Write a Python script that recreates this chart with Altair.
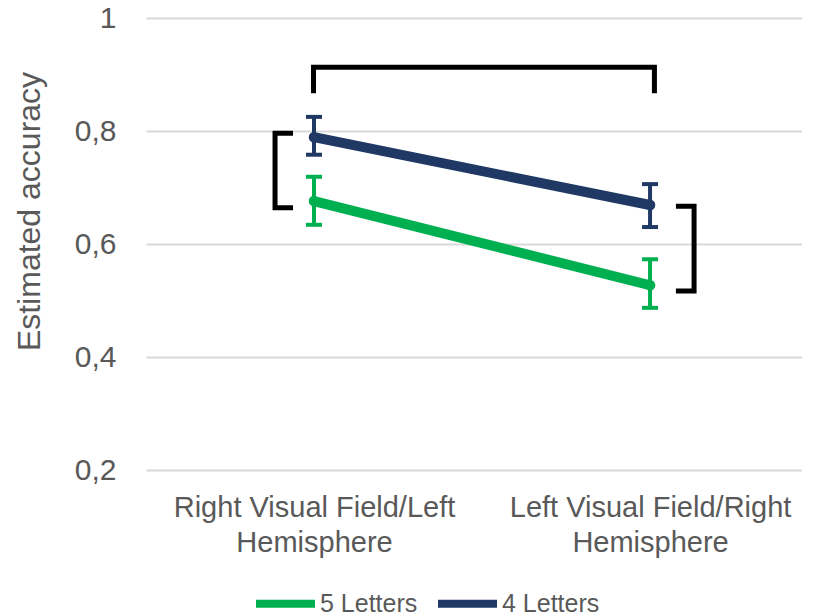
import altair as alt
import pandas as pd

# --- data ---
cat_lines = [["Right Visual Field/Left", "Hemisphere"],
             ["Left Visual Field/Right", "Hemisphere"]]
cat_idx = [0.5, 1.5]                      # category slot on the x scale
series = ["5 Letters", "4 Letters"]
colors = ["#00B050", "#1F3864"]

mean_5 = [0.676, 0.527]
lo_5 = [0.634, 0.487]
hi_5 = [0.719, 0.573]

mean_4 = [0.789, 0.669]
lo_4 = [0.758, 0.630]
hi_4 = [0.825, 0.706]

y_ticks = [0.2, 0.4, 0.6, 0.8, 1.0]

# significance brackets (in data units)
br_top_x = [0.4985, 0.4985, 1.513, 1.513]
br_top_y = [0.867, 0.913, 0.913, 0.867]
br_left_x = [0.4375, 0.384, 0.384, 0.4375]
br_left_y = [0.796, 0.796, 0.664, 0.664]
br_right_x = [1.577, 1.631, 1.631, 1.577]
br_right_y = [0.667, 0.667, 0.517, 0.517]

FONT = "Liberation Sans"
GREY = "#595959"

rows = []
for s, m, lo, hi in [(series[0], mean_5, lo_5, hi_5), (series[1], mean_4, lo_4, hi_4)]:
    for i in range(2):
        rows.append({"series": s, "x": cat_idx[i], "mean": m[i], "lo": lo[i], "hi": hi[i]})
df = pd.DataFrame(rows)

brows = []
for name, xs, ys in [("top", br_top_x, br_top_y), ("left", br_left_x, br_left_y),
                     ("right", br_right_x, br_right_y)]:
    for k, (xv, yv) in enumerate(zip(xs, ys)):
        brows.append({"b": name, "k": k, "x": xv, "y": yv})
bdf = pd.DataFrame(brows)

label_expr = "datum.value < 1 ? {} : {}".format(
    "[" + ",".join("'" + t + "'" for t in cat_lines[0]) + "]",
    "[" + ",".join("'" + t + "'" for t in cat_lines[1]) + "]",
)

xscale = alt.Scale(domain=[0, 1.976], nice=False, zero=False, padding=0)
yscale = alt.Scale(domain=[0.2, 1.0], nice=False, zero=False, padding=0)
cscale = alt.Scale(domain=series, range=colors)

x_axis = alt.Axis(
    values=cat_idx, labelExpr=label_expr, title=None, grid=False, domain=False,
    ticks=False, labelFont=FONT, labelFontSize=29, labelColor=GREY,
    labelPadding=23, labelLineHeight=35, labelFlush=False, labelLimit=0)
y_axis = alt.Axis(
    values=y_ticks,
    labelExpr="datum.value == 1 ? '1' : replace(format(datum.value, '.1f'), '.', ',')",
    title="Estimated accuracy", titleFont=FONT, titleFontSize=32,
    titleFontWeight="normal", titleColor=GREY, titlePadding=28, titleY=193,
    labelFont=FONT, labelFontSize=30, labelColor=GREY, labelPadding=30,
    domain=False, ticks=False, gridColor="#d9d9d9", gridWidth=2)

legend = alt.Legend(
    title=None, orient="none", direction="horizontal",
    legendX=106, legendY=552,
    symbolType="stroke", symbolStrokeWidth=8,
    symbolSize=3481, labelFont=FONT, labelFontSize=25,
    labelColor=GREY, labelOffset=1, columnPadding=4)

xe = alt.X("x:Q", scale=xscale, axis=x_axis)
ce = alt.Color("series:N", scale=cscale, legend=legend)


def ye(field):
    return alt.Y(field, scale=yscale, axis=y_axis)


base = alt.Chart(df)

lines = base.mark_line(strokeWidth=10, strokeCap="round").encode(
    x=xe, y=ye("mean:Q"), color=ce, detail="series:N")

points = base.mark_point(filled=True, size=110, opacity=1).encode(
    x=xe, y=ye("mean:Q"), color=ce)

err = base.mark_rule(strokeWidth=4, opacity=1).encode(
    x=xe, y=ye("lo:Q"), y2="hi:Q", color=ce)

cap_lo = base.mark_tick(orient="horizontal", size=16, thickness=4, opacity=1).encode(
    x=xe, y=ye("lo:Q"), color=ce)
cap_hi = base.mark_tick(orient="horizontal", size=16, thickness=4, opacity=1).encode(
    x=xe, y=ye("hi:Q"), color=ce)

brk = alt.Chart(bdf).mark_line(color="black", strokeWidth=5, strokeJoin="miter",
                               strokeCap="butt").encode(
    x=xe, y=ye("y:Q"), detail="b:N", order="k:Q")

chart = alt.layer(lines, err, cap_lo, cap_hi, points, brk).properties(
    width=664, height=452,
    padding={"left": 5, "top": -5, "right": -8, "bottom": 0},
).configure(background="white").configure_view(stroke=None).configure_axis(
    domain=False, ticks=False
).configure_axisX(grid=False)

chart.save("out.html", embed_options={"renderer": "svg", "actions": False})
